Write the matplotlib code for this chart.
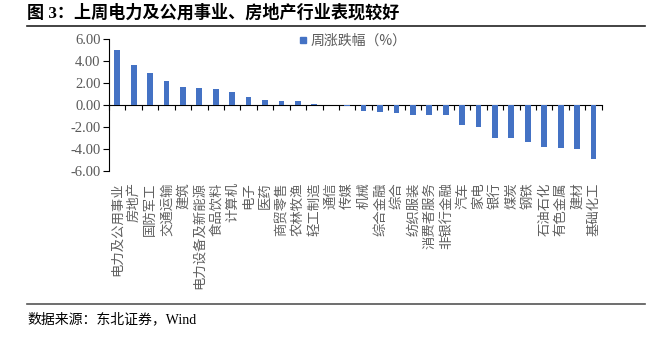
import matplotlib
matplotlib.use("Agg")
import matplotlib.pyplot as plt
from matplotlib.lines import Line2D
import numpy as np

plt.rcParams['font.family'] = ['Noto Sans CJK SC', 'DejaVu Sans']

categories = ["电力及公用事业", "房地产", "国防军工", "交通运输", "建筑", "电力设备及新能源",
              "食品饮料", "计算机", "电子", "医药", "商贸零售", "农林牧渔", "轻工制造", "通信",
              "传媒", "机械", "综合金融", "综合", "纺织服装", "消费者服务", "非银行金融", "汽车",
              "家电", "银行", "煤炭", "钢铁", "石油石化", "有色金属", "建材", "基础化工"]
values = [5.00, 3.63, 2.96, 2.16, 1.65, 1.52, 1.49, 1.16, 0.70, 0.46, 0.40, 0.35, 0.09, 0.04,
          -0.08, -0.52, -0.61, -0.73, -0.91, -0.95, -0.95, -1.80, -1.98, -3.05, -3.05, -3.35,
          -3.87, -3.93, -3.99, -4.97]
yticks = [-6, -4, -2, 0, 2, 4, 6]
series_name = "周涨跌幅（%）"
title = "图 3：上周电力及公用事业、房地产行业表现较好"
source = "数据来源：东北证券，Wind"

W, H = 657, 338
fig = plt.figure(figsize=(W / 100, H / 100), dpi=100)
ax = fig.add_axes([109 / W, 1 - 170.7 / H, (601.7 - 109) / W, (170.7 - 39.3) / H])

bar_color = "#4472C4"
grey = "#595959"
mixed = ['Liberation Serif', 'Noto Sans CJK SC']
x = np.arange(len(categories))
ax.bar(x, values, width=0.35, color=bar_color, zorder=3)

ax.set_xlim(-0.5, len(categories) - 0.5)
ax.set_ylim(-6, 6)
ax.set_yticks(yticks)
ax.set_yticklabels([f"{v:.2f}".replace("\u2212", "-") for v in yticks],
                   family="Liberation Serif", fontsize=10.5, color=grey)
ax.tick_params(axis='y', direction='out', length=4, width=0.8, color="#000000", pad=2)

for s in ["top", "right"]:
    ax.spines[s].set_visible(False)
ax.spines["left"].set_color("#000000")
ax.spines["left"].set_linewidth(0.8)
ax.spines["bottom"].set_position(("data", 0))
ax.spines["bottom"].set_color("#000000")
ax.spines["bottom"].set_linewidth(0.8)

ax.set_xticks(np.arange(-0.5, len(categories), 1.0), minor=True)
ax.set_xticks(x)
ax.set_xticklabels(categories, fontsize=9.6, color="#606060", rotation=90,
                   ha='center', va='top', rotation_mode='default')
ax.tick_params(axis='x', which='major', length=0, pad=55.5)
ax.tick_params(axis='x', which='minor', direction='out', length=3.5, width=0.8, color="#000000")

handle = Line2D([], [], marker='s', color=bar_color, linestyle='None', markersize=5)
leg = ax.legend([handle], [series_name], loc='upper left', bbox_to_anchor=(297 / W, 1 - 34 / H),
                bbox_transform=fig.transFigure, frameon=False, fontsize=10,
                handletextpad=0.2, handlelength=0.8, borderpad=0, borderaxespad=0)
for t in leg.get_texts():
    t.set_color(grey)

fig.text(27 / W, 1 - 13 / H, title, fontsize=12.3, fontweight='bold', va='center', ha='left',
         color="#000000", family=mixed)
fig.add_artist(Line2D([27 / W, 645 / W], [1 - 26 / H, 1 - 26 / H], color="#222222", lw=1.2))
fig.add_artist(Line2D([27 / W, 645 / W], [1 - 304 / H, 1 - 304 / H], color="#555555", lw=1.2))
fig.text(27 / W, 1 - 319 / H, source, fontsize=10, va='center', ha='left',
         color="#000000", family=mixed)

fig.savefig("out.png", dpi=100)
